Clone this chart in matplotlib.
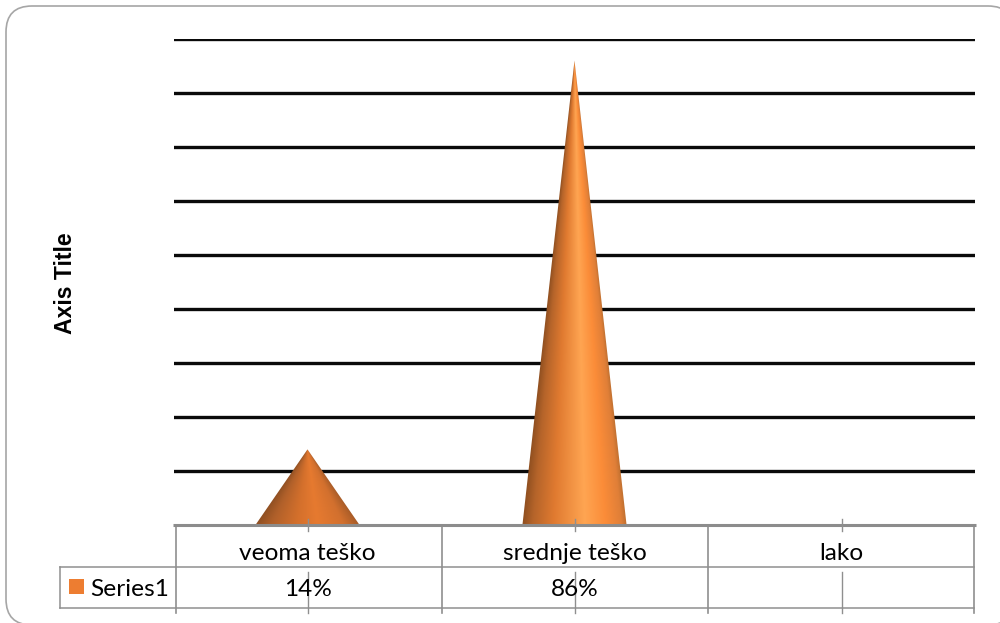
import numpy as np
import matplotlib
matplotlib.use("Agg")
import matplotlib.pyplot as plt
from matplotlib.colors import LinearSegmentedColormap
from matplotlib.patches import FancyBboxPatch, Polygon, Rectangle

categories = ["veoma teško", "srednje teško", "lako"]
values = [0.14, 0.86, None]
value_labels = ["14%", "86%", ""]
series_name = "Series1"
y_ticks = [0.1, 0.2, 0.3, 0.4, 0.5, 0.6, 0.7, 0.8, 0.9]
axis_title = "Axis Title"

W, H = 1000, 623
GRAY = "#8f8f8f"
ORANGE = "#ed7d31"
plt.rcParams["font.family"] = ["Lato", "DejaVu Sans"]

fig = plt.figure(figsize=(W / 100, H / 100), dpi=100, facecolor="white")

# pixel layer for the frame and the data table
bg = fig.add_axes([0, 0, 1, 1])
bg.set_xlim(0, W)
bg.set_ylim(H, 0)
bg.axis("off")

frame = FancyBboxPatch((6, 6), 1008, 619, boxstyle="round,pad=0,rounding_size=26",
                       fc="white", ec="#a6a6a6", lw=1.2, clip_on=True)
bg.add_patch(frame)

# plot area
ax = fig.add_axes([174 / W, 1 - 525 / H, 801 / W, (525 - 39) / H])
ax.patch.set_alpha(0)
ax.set_xlim(-0.5, 2.5)
ax.set_ylim(0, 0.9)
for s in ax.spines.values():
    s.set_visible(False)
ax.set_yticks(y_ticks)
ax.set_yticklabels([])
ax.tick_params(left=False, bottom=False, labelbottom=False)
ax.set_xticks(range(len(categories)))
ax.yaxis.grid(True, color="#0a0a0a", lw=2.4, zorder=1)
ax.set_axisbelow(True)

tall = LinearSegmentedColormap.from_list("tall", [(0, "#8f4f20"), (0.1, "#b5642a"), (0.3, "#e07a30"),
                                                  (0.6, "#ffa552"), (0.8, "#fb8c38"), (0.95, "#e07f38"), (1, "#c07030")])
short = LinearSegmentedColormap.from_list("short", [(0, "#8f4f22"), (0.15, "#b0602a"), (0.4, "#d4702c"),
                                                    (0.6, "#e67a30"), (0.85, "#d2702e"), (1, "#a85c28")])
cmaps = [short, tall]
cone_w = 0.39
for i, v in enumerate(values):
    if v is None:
        continue
    # shading follows the cone, so it narrows towards the tip
    u, t = np.meshgrid(np.linspace(-1, 1, 400), np.linspace(0, 0.998, 500))
    shade = np.clip(0.5 + u / (2 * (1 - t)), 0, 1)
    im = ax.imshow(shade, cmap=cmaps[i], aspect="auto", origin="lower", vmin=0, vmax=1,
                   extent=(i - cone_w / 2, i + cone_w / 2, 0, v), zorder=3)
    cone = Polygon([(i - cone_w / 2, 0), (i, v), (i + cone_w / 2, 0)], closed=True,
                   transform=ax.transData, fc="none", ec="none")
    ax.add_patch(cone)
    im.set_clip_path(cone)
ax.set_xlim(-0.5, 2.5)
ax.set_ylim(0, 0.9)

bg.text(66, 283, axis_title, rotation=90, ha="center", va="center", fontsize=16.6,
        fontweight="bold", family="Liberation Sans", color="black")

# data table drawn on top of the plot in pixel coords
top = fig.add_axes([0, 0, 1, 1])
top.set_xlim(0, W)
top.set_ylim(H, 0)
top.axis("off")
top.patch.set_alpha(0)

top.plot([173, 976], [525, 525], color="#8c8c8c", lw=2.2, solid_capstyle="butt", zorder=5)
top.plot([60, 974], [566.5, 566.5], color=GRAY, lw=1.1, zorder=4)
top.plot([60, 974], [608, 608], color=GRAY, lw=1.1, zorder=4)
top.plot([60, 60], [566.5, 608], color=GRAY, lw=1.1, zorder=4)

edges = [175.5, 441.5, 708, 974]
for x in edges:
    top.plot([x, x], [525, 613], color=GRAY, lw=1.2, zorder=4)
centers = ax.transData.transform([(i, 0) for i in range(3)])[:, 0]
for x in centers:
    top.plot([x, x], [519, 531], color=GRAY, lw=1.0, zorder=6)
    top.plot([x, x], [572, 613], color=GRAY, lw=1.0, zorder=6)

for x, cat, lab in zip(centers, categories, value_labels):
    top.text(x, 554, cat, ha="center", va="center", fontsize=17.6, color="black", zorder=7)
    top.text(x, 590, lab, ha="center", va="center", fontsize=17.6, color="black", zorder=7)

top.add_patch(Rectangle((69, 579), 15, 15, fc=ORANGE, ec="none", zorder=7))
top.text(90, 589.5, series_name, ha="left", va="center", fontsize=17.6, color="black", zorder=7)

fig.savefig("out.png", dpi=100, facecolor="white")
